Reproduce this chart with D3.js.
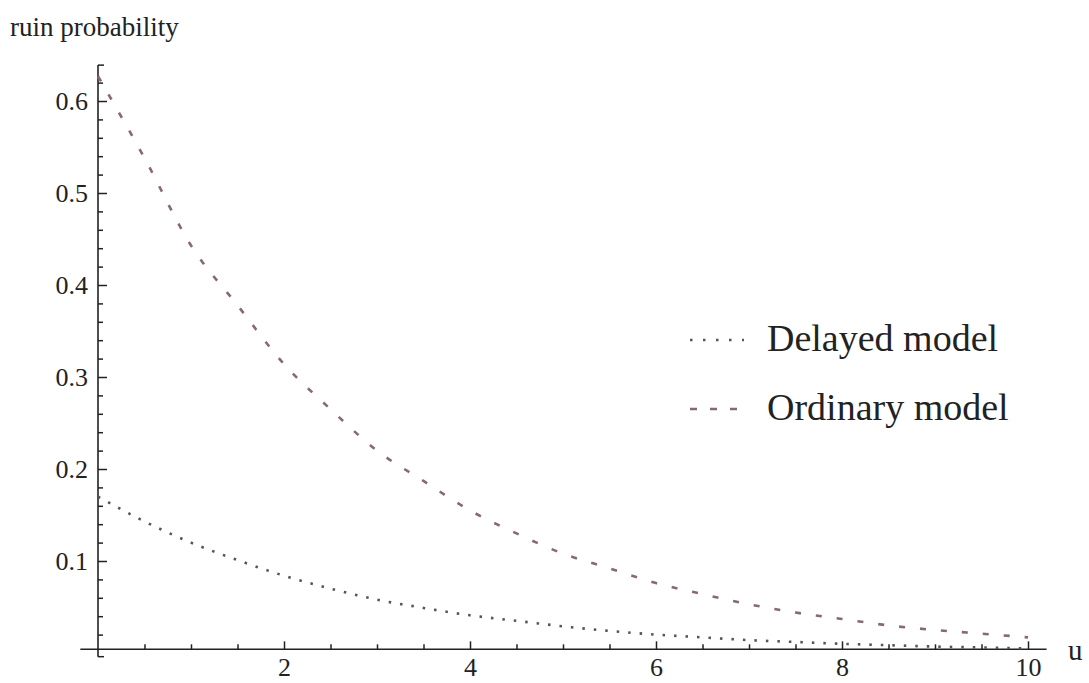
<!DOCTYPE html>
<html>
<head>
<meta charset="utf-8">
<script src="https://cdn.jsdelivr.net/npm/d3@7"></script>
<style>
  body { margin: 0; background: #fff; }
  text { font-family: "Liberation Serif", "Times New Roman", serif; fill: #222; }
</style>
</head>
<body>
<script>
// values
var uValues = [0, 0.5, 1, 1.5, 2, 2.5, 3, 3.5, 4, 4.5, 5, 5.5, 6, 6.5, 7, 7.5, 8, 8.5, 9, 9.5, 10];
var delayed = [0.170, 0.143, 0.120, 0.101, 0.084, 0.070, 0.058, 0.049, 0.041, 0.035, 0.029,
               0.024, 0.020, 0.017, 0.014, 0.012, 0.010, 0.0085, 0.007, 0.006, 0.005];
var ordinary = [0.627, 0.538, 0.443, 0.378, 0.314, 0.265, 0.220, 0.187, 0.155, 0.130, 0.108,
                0.092, 0.076, 0.064, 0.053, 0.044, 0.037, 0.030, 0.025, 0.021, 0.017];
var xMajor = [2, 4, 6, 8, 10];
var yMajor = [0.1, 0.2, 0.3, 0.4, 0.5, 0.6];
var seriesNames = ['Delayed model', 'Ordinary model'];

var width = 1089;
var height = 683;

var svg = d3.select('body')
  .append('svg')
  .attr('width', width)
  .attr('height', height);

var x = d3.scaleLinear().domain([0, 10]).range([98, 1028]);
var y = d3.scaleLinear().domain([0, 0.6]).range([653, 101]);

// the x axis crosses slightly above zero, as in the original
var axisAt = 0.004;

//minor ticks
var xMinor = d3.range(0.5, 10.01, 0.5).filter(function(d) { return d % 2 !== 0; });
var yMinor = d3.range(0.02, 0.64, 0.02).filter(function(d) {
  return Math.abs(d * 10 - Math.round(d * 10)) > 0.001;
});

var gx = svg.append('g').attr('transform', 'translate(0,' + y(axisAt) + ')');
gx.call(d3.axisBottom(x).tickValues(xMinor).tickSizeInner(-5).tickSizeOuter(0).tickFormat(''));
gx.call(function(g) {
  g.append('g').call(d3.axisBottom(x).tickValues(xMajor).tickSizeInner(-8).tickSizeOuter(0).tickPadding(8));
});
gx.selectAll('.domain').remove();
gx.selectAll('line').attr('stroke', '#222').attr('stroke-width', 1.5);
gx.selectAll('text').style('font-size', '26px').style('font-family', '"Liberation Serif", serif').attr('fill', '#222');

var gy = svg.append('g').attr('transform', 'translate(' + x(0) + ',0)');
gy.call(d3.axisLeft(y).tickValues(yMinor).tickSizeInner(-5).tickSizeOuter(0).tickFormat(''));
gy.call(function(g) {
  g.append('g').call(d3.axisLeft(y).tickValues(yMajor).tickSizeInner(-9).tickSizeOuter(0).tickPadding(10).tickFormat(d3.format('.1f')));
});
gy.selectAll('.domain').remove();
gy.selectAll('line').attr('stroke', '#222').attr('stroke-width', 1.5);
gy.selectAll('text').style('font-size', '26px').style('font-family', '"Liberation Serif", serif').attr('fill', '#222');

// axis lines
svg.append('line')
  .attr('x1', x(-0.19)).attr('x2', x(10.2))
  .attr('y1', y(axisAt)).attr('y2', y(axisAt))
  .attr('stroke', '#222').attr('stroke-width', 1.6);
svg.append('line')
  .attr('x1', x(0)).attr('x2', x(0))
  .attr('y1', y(0.639)).attr('y2', y(-0.004))
  .attr('stroke', '#222').attr('stroke-width', 1.6);
// end caps of the y axis
[0.639, -0.004].forEach(function(v) {
  svg.append('line')
    .attr('x1', x(0)).attr('x2', x(0) + 6)
    .attr('y1', y(v)).attr('y2', y(v))
    .attr('stroke', '#222').attr('stroke-width', 1.5);
});

svg.append('text')
  .attr('x', 10).attr('y', 36)
  .style('font-size', '27px')
  .text('ruin probability');
svg.append('text')
  .attr('x', 1068).attr('y', 660)
  .style('font-size', '29px')
  .text('u');

var line = d3.line()
  .x(function(d) { return x(d[0]); })
  .y(function(d) { return y(d[1]); })
  .curve(d3.curveMonotoneX);

var styles = [
  { color: '#555555', dash: '2.5,9', width: 2.6 },
  { color: '#86687a', dash: '6,15', width: 2.6 }
];

[delayed, ordinary].forEach(function(values, i) {
  svg.append('path')
    .datum(uValues.map(function(u, k) { return [u, values[k]]; }))
    .attr('d', line)
    .attr('fill', 'none')
    .attr('stroke', styles[i].color)
    .attr('stroke-width', styles[i].width)
    .attr('stroke-dasharray', styles[i].dash);
});

//legend
var legend = svg.append('g').attr('transform', 'translate(690,340)');
seriesNames.forEach(function(name, i) {
  var row = legend.append('g').attr('transform', 'translate(0,' + (i * 69) + ')');
  row.append('line')
    .attr('x1', 0).attr('x2', 54)
    .attr('y1', 0).attr('y2', 0)
    .attr('stroke', styles[i].color)
    .attr('stroke-width', styles[i].width)
    .attr('stroke-dasharray', i === 0 ? '2.5,10.5' : '7,13');
  row.append('text')
    .attr('x', 77).attr('y', 11)
    .style('font-size', '38px')
    .text(name);
});
</script>
</body>
</html>
